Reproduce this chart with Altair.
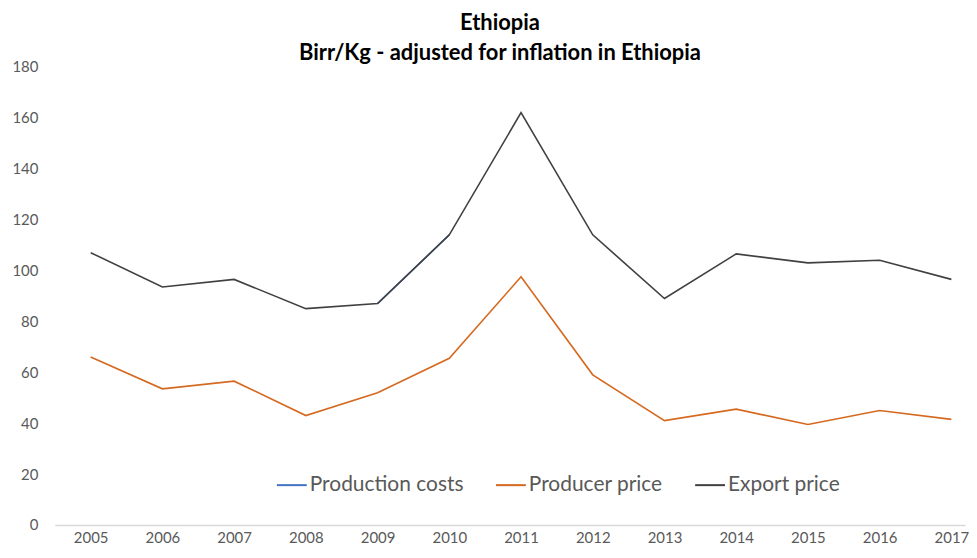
import altair as alt
import pandas as pd

years = list(range(2005, 2018))
export_price = [107, 93.5, 96.5, 85, 87, 114, 162, 114, 89, 106.5, 103, 104, 96.5]
producer_price = [66, 53.5, 56.5, 43, 52, 65.5, 97.5, 59, 41, 45.5, 39.5, 45, 41.5]
production_years = [2009, 2010]
production_costs = [87, 114]

series_names = ["Production costs", "Producer price", "Export price"]
series_colors = ["#4472C4", "#D5691F", "#404040"]

rows = []
for y, v in zip(production_years, production_costs):
    rows.append({"Year": y, "Value": v, "Series": "Production costs", "order": 0})
for y, v in zip(years, producer_price):
    rows.append({"Year": y, "Value": v, "Series": "Producer price", "order": 1})
for y, v in zip(years, export_price):
    rows.append({"Year": y, "Value": v, "Series": "Export price", "order": 2})
df = pd.DataFrame(rows)

font = "Lato"

chart = alt.Chart(df).mark_line(strokeWidth=1.6).encode(
    x=alt.X("Year:Q",
            scale=alt.Scale(domain=[2004.5, 2017.19], nice=False, zero=False),
            axis=alt.Axis(title=None, values=years, format="d", grid=False,
                          ticks=False, domainColor="#D9D9D9", domainWidth=1.5,
                          labelFontSize=15, labelColor="#595959", labelFont=font,
                          labelPadding=6, labelFlush=False)),
    y=alt.Y("Value:Q",
            scale=alt.Scale(domain=[0, 180], nice=False),
            axis=alt.Axis(title=None, values=list(range(0, 181, 20)), grid=False,
                          ticks=False, domain=False, labelFontSize=15,
                          labelColor="#595959", labelFont=font, labelPadding=17)),
    color=alt.Color("Series:N",
                    scale=alt.Scale(domain=series_names, range=series_colors),
                    legend=alt.Legend(title=None, orient="none", direction="horizontal",
                                      legendX=222, legendY=404,
                                      symbolType="stroke", symbolSize=900,
                                      symbolStrokeWidth=2, labelFontSize=21,
                                      labelColor="#595959", labelFont=font,
                                      labelOffset=2, columnPadding=28)),
    order=alt.Order("order:Q"),
    detail="Series:N",
).properties(
    width=914,
    height=460,
    padding={"left": 47, "top": 58, "right": 4, "bottom": 24},
    autosize=alt.AutoSizeParams(type="none"),
    title=alt.TitleParams(
        text=["Ethiopia", "Birr/Kg - adjusted for inflation in Ethiopia"],
        fontSize=22, font=font, fontWeight="bold", color="#000000",
        anchor="middle", dx=-10, offset=-5, lineHeight=30,
    ),
).configure_view(stroke=None)

chart.save("out.html", embed_options={"renderer": "svg", "actions": False})
